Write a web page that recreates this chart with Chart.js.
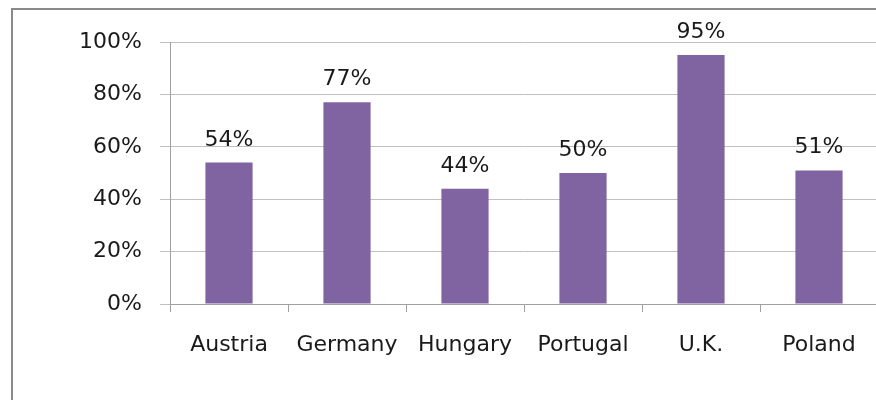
<!DOCTYPE html>
<html>
<head>
<meta charset="utf-8">
<script src="https://cdn.jsdelivr.net/npm/chart.js@4"></script>
<style>
    html, body { margin: 0; padding: 0; background: #fff; overflow: hidden; }
    #wrap { position: relative; width: 878px; height: 400px; }
    #frame {
        position: absolute; left: 11px; top: 8px; width: 900px; height: 420px;
        border-left: 2px solid #8a8a8a; border-top: 2px solid #8a8a8a;
        pointer-events: none;
    }
</style>
</head>
<body>
<div id="wrap">
    <canvas id="chart" width="878" height="400"></canvas>
    <div id="frame"></div>
</div>
<script>
// ================= DATA =================
const countries = ["Austria", "Germany", "Hungary", "Portugal", "U.K.", "Poland"];
const shares = [54, 77, 44, 50, 95, 51];
const yTicks = [0, 20, 40, 60, 80, 100];

const barColor = "#8064A2";
const textColor = "#1a1a1a";
const fontFamily = "'DejaVu Sans', Verdana, sans-serif";

// ================= LABELS ON BARS =================
const valueLabels = {
    id: "valueLabels",
    afterDatasetsDraw(chart) {
        const ctx = chart.ctx;
        const meta = chart.getDatasetMeta(0);
        ctx.save();
        ctx.font = "22px " + fontFamily;
        ctx.fillStyle = textColor;
        ctx.textAlign = "center";
        ctx.textBaseline = "alphabetic";
        meta.data.forEach((bar, i) => {
            ctx.fillText(shares[i] + "%", bar.x, bar.y - 17);
        });
        ctx.restore();
    }
};

// ================= CHART =================
const chart = new Chart(document.getElementById("chart"), {
    type: "bar",
    data: {
        labels: countries,
        datasets: [{
            data: shares,
            backgroundColor: barColor,
            borderWidth: 0,
            barPercentage: 0.4,
            categoryPercentage: 1
        }]
    },
    options: {
        responsive: false,
        animation: false,
        layout: { padding: { top: 42, left: 0, right: 0, bottom: 0 } },
        plugins: {
            legend: { display: false },
            tooltip: { enabled: false }
        },
        scales: {
            x: {
                grid: {
                    offset: true,
                    drawOnChartArea: false,
                    drawTicks: true,
                    tickLength: 8,
                    color: "#a0a0a0"
                },
                border: { color: "#a0a0a0", width: 1 },
                ticks: {
                    color: textColor,
                    font: { family: fontFamily, size: 22 },
                    padding: 20,
                    maxRotation: 0
                },
                afterFit(scale) { scale.height = 96; }
            },
            y: {
                min: 0,
                max: 100,
                afterBuildTicks(scale) {
                    scale.ticks = yTicks.map(v => ({ value: v }));
                },
                grid: {
                    color: "#c0c0c0",
                    tickLength: 10,
                    drawTicks: true
                },
                border: { color: "#a0a0a0", width: 1 },
                ticks: {
                    color: textColor,
                    font: { family: fontFamily, size: 22 },
                    padding: 18,
                    callback: v => v + "%"
                },
                afterFit(scale) { scale.width = 170; }
            }
        }
    },
    plugins: [valueLabels]
});
</script>
</body>
</html>
